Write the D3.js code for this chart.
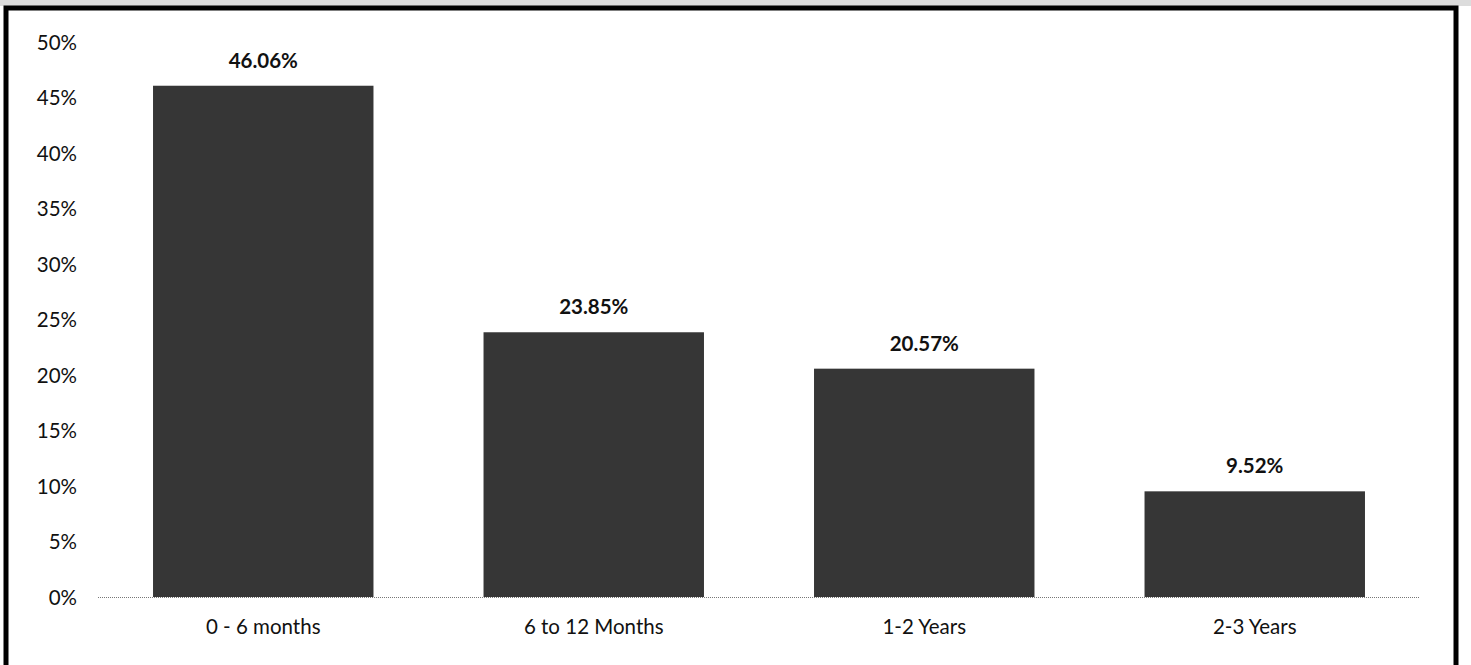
<!DOCTYPE html>
<html><head><meta charset="utf-8">
<script src="https://cdn.jsdelivr.net/npm/d3@7"></script>
<style>
html,body{margin:0;padding:0;background:#fff;}
svg{display:block;}
text{font-family:Lato,"Open Sans",sans-serif;fill:#111;}
</style></head>
<body><div id="chart"></div>
<script>
const categories = ["0 - 6 months", "6 to 12 Months", "1-2 Years", "2-3 Years"];
const values = [46.06, 23.85, 20.57, 9.52];
const tickValues = [0, 5, 10, 15, 20, 25, 30, 35, 40, 45, 50];

const W = 1471, H = 665;
const svg = d3.select("#chart").append("svg").attr("width", W).attr("height", H);

// top gray strip and frame
svg.append("rect").attr("x",0).attr("y",0).attr("width",W).attr("height",6).attr("fill","#dcdcdc");
svg.append("rect").attr("x",6).attr("y",8).attr("width",1450).attr("height",H+10)
  .attr("fill","#fff").attr("stroke","#000").attr("stroke-width",5);

const x = d3.scaleBand().domain(categories).range([98, 1420]).paddingInner(0.333).paddingOuter(0.1665);
const y = d3.scaleLinear().domain([0, 50]).range([597, 42]);
const FS = 20.5;

// y axis labels
const yAxis = d3.axisLeft(y).tickValues(tickValues).tickFormat(d => d + "%").tickSize(0).tickPadding(0);
const gy = svg.append("g").attr("transform","translate(77,0)").call(yAxis);
gy.select(".domain").remove();
gy.selectAll("text").attr("font-size",FS).attr("font-family","Lato,'Open Sans',sans-serif").attr("fill","#111").attr("dy","0.36em");

// bars
svg.selectAll("rect.bar").data(values).enter().append("rect").attr("class","bar")
  .attr("x",(d,i)=>x(categories[i])).attr("width",x.bandwidth())
  .attr("y",d=>y(d)).attr("height",d=>y(0)-y(d)).attr("fill","#363636");

// baseline
svg.append("line").attr("x1",98).attr("x2",1420).attr("y1",y(0)+0.5).attr("y2",y(0)+0.5)
  .attr("stroke","#777").attr("stroke-width",1).attr("stroke-dasharray","1,1");

// x axis labels
const xAxis = d3.axisBottom(x).tickSize(0).tickPadding(0);
const gx = svg.append("g").attr("transform",`translate(0,${y(0)})`).call(xAxis);
gx.select(".domain").remove();
gx.selectAll("text").attr("font-size",FS).attr("font-family","Lato,'Open Sans',sans-serif").attr("fill","#111").attr("y",37).attr("dy",0);

// data labels
svg.selectAll("text.val").data(values).enter().append("text").attr("class","val")
  .attr("x",(d,i)=>x(categories[i])+x.bandwidth()/2).attr("y",d=>y(d)-18)
  .attr("text-anchor","middle").attr("font-size",FS).attr("font-weight","bold")
  .text(d=>d.toFixed(2)+"%");
</script></body></html>
